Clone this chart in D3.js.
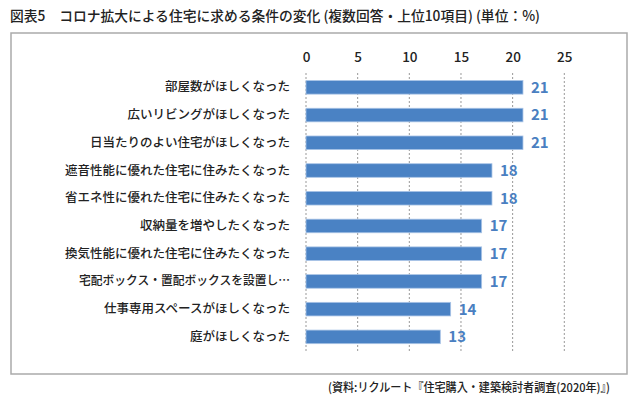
<!DOCTYPE html>
<html><head><meta charset="utf-8">
<script src="https://cdn.jsdelivr.net/npm/d3@7"></script>
<style>body{margin:0;background:#fff;}svg{display:block;}</style>
</head><body>
<svg id="c" width="640" height="401"></svg>
<script>
const title = "図表5　コロナ拡大による住宅に求める条件の変化 (複数回答・上位10項目) (単位：%)";
const source = "(資料:リクルート『住宅購入・建築検討者調査(2020年)』)";
const categories = ["部屋数がほしくなった","広いリビングがほしくなった","日当たりのよい住宅がほしくなった","遮音性能に優れた住宅に住みたくなった","省エネ性に優れた住宅に住みたくなった","収納量を増やしたくなった","換気性能に優れた住宅に住みたくなった","宅配ボックス・置配ボックスを設置し…","仕事専用スペースがほしくなった","庭がほしくなった"];
const values = [21,21,21,18,18,17,17,17,14,13];
const ticks = [0,5,10,15,20,25];

const font = "'Noto Sans CJK JP','Noto Sans',sans-serif";
const svg = d3.select("#c");
svg.append("text").attr("x",10).attr("y",21).attr("font-family",font).attr("font-size",14).attr("font-weight",500).attr("fill","#222")
 .attr("textLength",530).attr("lengthAdjust","spacingAndGlyphs").text(title);
svg.append("rect").attr("x",11).attr("y",33).attr("width",616).attr("height",341).attr("fill","#fff").attr("stroke","#aaa").attr("stroke-width",1.5);

const x = d3.scaleLinear().domain([0,25]).range([306,564.3]);
const y = d3.scaleBand().domain(categories).range([73.6,350.6]).paddingInner(0.51).paddingOuter(0.25);

const g = svg.append("g");
g.selectAll("line.grid").data(ticks).join("line").attr("class","grid")
 .attr("x1",d=>x(d)).attr("x2",d=>x(d)).attr("y1",73).attr("y2",351)
 .attr("stroke","#999").attr("stroke-width",1).attr("stroke-dasharray","2,2");

const ax = d3.axisTop(x).tickValues(ticks).tickSize(0).tickPadding(0);
const axg = svg.append("g").attr("transform","translate(0,62)").call(ax);
axg.select(".domain").remove();
axg.selectAll("text").attr("font-family",font).attr("font-size",13.5).attr("font-weight",500).attr("fill","#222");

g.selectAll("rect.bar").data(values).join("rect").attr("class","bar")
 .attr("x",x(0)).attr("y",(d,i)=>y(categories[i])).attr("width",d=>x(d)-x(0)).attr("height",y.bandwidth())
 .attr("fill","#4a82c4").attr("stroke","#a9c4e6").attr("stroke-width",0.8);

g.selectAll("text.val").data(values).join("text").attr("class","val")
 .attr("x",d=>x(d)+8).attr("y",(d,i)=>y(categories[i])+y.bandwidth()/2).attr("dy","0.36em")
 .attr("font-family",font).attr("font-size",15).attr("font-weight",700).attr("fill","#4a7fc1").text(d=>d);

const ay = d3.axisLeft(y).tickSize(0).tickPadding(0);
const ayg = svg.append("g").attr("transform","translate(290,0)").call(ay);
ayg.select(".domain").remove();
ayg.selectAll("text").attr("font-family",font).attr("font-size",12.5).attr("font-weight",500).attr("fill","#222");
ayg.selectAll("text").filter(d=>d.includes("・")).attr("textLength",211).attr("lengthAdjust","spacingAndGlyphs");

svg.append("text").attr("x",610).attr("y",392).attr("text-anchor","end").attr("font-family",font).attr("font-size",12).attr("font-weight",500).attr("fill","#222")
 .attr("textLength",282).attr("lengthAdjust","spacingAndGlyphs").text(source);
</script>
</body></html>
